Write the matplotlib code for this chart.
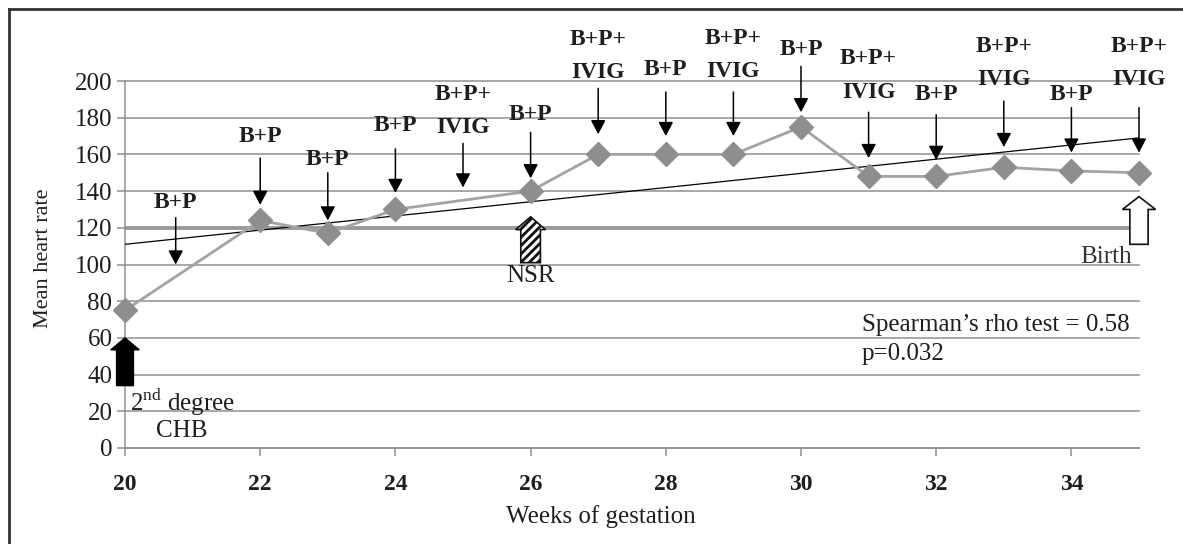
import matplotlib
matplotlib.use("Agg")
import matplotlib.pyplot as plt
from matplotlib.patches import FancyArrow
from matplotlib.lines import Line2D

plt.rcParams['font.family'] = ['Liberation Serif', 'DejaVu Serif']
plt.rcParams['mathtext.fontset'] = 'custom'
plt.rcParams['mathtext.rm'] = 'Liberation Serif'
plt.rcParams['hatch.linewidth'] = 2.0

# data
weeks = [20, 22, 23, 24, 26, 27, 28, 29, 30, 31, 32, 33, 34, 35]
heart_rate = [75, 124, 117, 130, 140, 160, 160, 160, 175, 148, 148, 153, 151, 150]

# linear trend line end points
trend_x = [20, 35]
trend_y = [111, 169]

# treatment arrows
treat_weeks = [20.75, 22, 23, 24, 25, 26, 27, 28, 29, 30, 31, 32, 33, 34, 35]
treat_top = ['', '', '', '', 'B+P+', '', 'B+P+', '', 'B+P+', '', 'B+P+', '', 'B+P+', '', 'B+P+']
treat_bottom = ['B+P', 'B+P', 'B+P', 'B+P', 'IVIG', 'B+P', 'IVIG', 'B+P', 'IVIG', 'B+P',
                'IVIG', 'B+P', 'IVIG', 'B+P', 'IVIG']
arrow_start = [125.5, 158, 150, 163, 166, 172, 196, 194, 194, 208, 183, 181.6, 189, 185.5, 185.5]
arrow_end = [100, 132.5, 124, 139, 142, 147, 171, 170, 170, 183, 158, 157, 164, 161, 161]
label_y = [134, 170, 157, 176, 174.6, 181.7, 204.6, 206, 205, 217, 194, 192.6, 200.7, 192.6, 200.7]

x_ticks = [20, 22, 24, 26, 28, 30, 32, 34]
y_ticks = [0, 20, 40, 60, 80, 100, 120, 140, 160, 180, 200]

fig = plt.figure(figsize=(11.83, 5.44), dpi=100)
ax = fig.add_axes([125 / 1183, 1 - 448 / 544, (1139 - 125) / 1183, (448 - 81) / 544])

txt = '#1e1e1e'
grid_c = '#8f8f8f'

for y in y_ticks:
    ax.axhline(y, color=grid_c, lw=1.1, zorder=1, clip_on=False)
ax.axhline(120, xmin=0, xmax=(34.85 - 20) / 15, color='#9a9a9a', lw=2.8, zorder=2)

ax.plot(trend_x, trend_y, color='black', lw=0.9, zorder=3)
ax.plot(weeks, heart_rate, color='#a3a3a3', lw=2, marker='D', markersize=12,
        markerfacecolor='#8e8e8e', markeredgecolor='#8e8e8e', zorder=4, clip_on=False)

for x, top, bot, y0, y1, ly in zip(treat_weeks, treat_top, treat_bottom, arrow_start, arrow_end, label_y):
    ax.annotate('', xy=(x, y1), xytext=(x, y0),
                arrowprops=dict(arrowstyle='-|>,head_length=0.85,head_width=0.45', color='black',
                                lw=1.1, shrinkA=0, shrinkB=0, mutation_scale=10),
                annotation_clip=False, zorder=5)
    ax.text(x, ly, bot, ha='center', va='center', fontsize=17, fontweight='bold', color=txt,
            clip_on=False)
    if top:
        ax.text(x, ly + 18, top, ha='center', va='center', fontsize=17, fontweight='bold',
                color=txt, clip_on=False)

# event arrows
ax.add_patch(FancyArrow(20, 34, 0, 26, width=0.25, head_width=0.42, head_length=6.5,
                        length_includes_head=True, facecolor='black', edgecolor='black',
                        lw=1, zorder=6, clip_on=False))
ax.add_patch(FancyArrow(26, 101, 0, 25, width=0.29, head_width=0.44, head_length=7,
                        length_includes_head=True, facecolor='white', edgecolor='#111111',
                        hatch='////', lw=1.2, zorder=6, clip_on=False))
ax.add_patch(FancyArrow(35, 111, 0, 26, width=0.27, head_width=0.49, head_length=7,
                        length_includes_head=True, facecolor='white', edgecolor='#111111',
                        lw=1.2, zorder=6, clip_on=False))

ax.text(20.07, 25, r'2$^{\rm nd}$ degree', ha='left', va='center', fontsize=18, color=txt)
ax.text(20.84, 9, 'CHB', ha='center', va='center', fontsize=18, color=txt)
ax.text(26, 94, 'NSR', ha='center', va='center', fontsize=18, color=txt)
ax.text(34.9, 104, 'Birth', ha='right', va='center', fontsize=18, color='#333333')
ax.text(30.9, 67, 'Spearman\u2019s rho test = 0.58', ha='left', va='center', fontsize=18, color=txt)
ax.text(30.9, 51, 'p=0.032', ha='left', va='center', fontsize=18, color=txt)

ax.set_xlim(20, 35)
ax.set_ylim(0, 200)
ax.set_xticks(x_ticks)
ax.set_yticks(y_ticks)
ax.set_xticklabels([str(t) for t in x_ticks], fontsize=17, fontweight='bold', color=txt)
ax.set_yticklabels([str(t) for t in y_ticks], fontsize=18, color=txt)
ax.tick_params(axis='both', color=grid_c, length=6, width=1.1)
ax.tick_params(axis='x', pad=13)
ax.tick_params(axis='y', pad=3)
for side in ['top', 'right']:
    ax.spines[side].set_visible(False)
ax.spines['left'].set_color(grid_c)
ax.spines['bottom'].set_color(grid_c)
ax.spines['left'].set_linewidth(1.1)
ax.spines['bottom'].set_linewidth(1.1)

ax.set_xlabel('Weeks of gestation', fontsize=18, color=txt)
ax.set_ylabel('Mean heart rate', fontsize=16, color=txt)
ax.xaxis.set_label_coords((601 - 125) / 1014, -(517 - 448) / 367)
ax.yaxis.set_label_coords(-(125 - 43) / 1014, (448 - 258) / 367)
ax.xaxis.label.set_va('center')
ax.yaxis.label.set_va('center')

# outer frame (left and top edges)
fig.add_artist(Line2D([9 / 1183, 9 / 1183], [0, 1 - 9 / 544], color='#333333', lw=2))
fig.add_artist(Line2D([9 / 1183, 1], [1 - 9 / 544, 1 - 9 / 544], color='#333333', lw=2))

fig.savefig('out.png', dpi=100)
